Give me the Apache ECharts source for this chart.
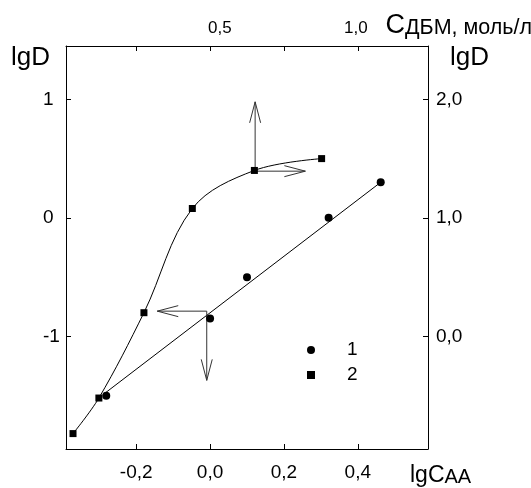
<!DOCTYPE html>
<html><head><meta charset="utf-8">
<script src="https://cdn.jsdelivr.net/npm/echarts@6/dist/echarts.min.js"></script>
<style>html,body{margin:0;padding:0;background:#fff}#c{width:531px;height:488px}</style>
</head><body><div id="c"></div>
<script>
// ---- data ----
const seriesNames = ['1', '2'];
const circles = [[-0.281, -1.50], [0.0, -0.85], [0.10, -0.50], [0.321, 0.0], [0.462, 0.30]];
const squares = [[-0.371, -1.82], [-0.301, -1.52], [-0.179, -0.80], [-0.048, 0.079], [0.12, 0.40], [0.302, 0.50]];
const fitLine = [[-0.285, -1.48], [0.462, 0.30]];
const arrows = [
  [0.122, 0.40, 0.122, 0.979],
  [0.122, 0.394, 0.258, 0.394],
  [-0.009, -0.787, -0.143, -0.787],
  [-0.009, -0.787, -0.009, -1.371]
];
const xTicks = [-0.2, 0, 0.2, 0.4];
const leftTicks = [-1, 0, 1];
const rightTicks = [0, 1, 2];
const topTicks = [0.5, 1.0];
// ---- chart ----
const FONT = "'Liberation Sans', Arial, sans-serif";
const comma = v => v.toFixed(1).replace('.', ',').replace('-0,0', '0,0');
const black = { color: '#000', width: 1 };
const chart = echarts.init(document.getElementById('c'), null, { renderer: 'canvas' });
chart.setOption({
  animation: false,
  backgroundColor: '#fff',
  textStyle: { fontFamily: FONT, color: '#000' },
  grid: { left: 66, right: 103, top: 46, bottom: 39, outerBoundsMode: 'none' },
  legend: {
    orient: 'vertical', left: 307, top: 340, padding: 0,
    itemWidth: 8, itemHeight: 8, itemGap: 5,
    data: [{ name: seriesNames[0], icon: 'circle' }, { name: seriesNames[1], icon: 'rect' }],
    textStyle: { fontFamily: FONT, fontSize: 19, color: '#000', lineHeight: 20, padding: [0, 0, 0, 27] }
  },
  xAxis: [
    {
      type: 'value', position: 'bottom', min: -0.39, max: 0.59,
      axisLine: { show: true, onZero: false, lineStyle: black },
      axisTick: { show: true, inside: true, length: 5, customValues: xTicks, lineStyle: black },
      axisLabel: { customValues: xTicks, formatter: comma, fontSize: 19, color: '#000', margin: 14, fontFamily: FONT },
      splitLine: { show: false },
      name: '{a|lgC}{b|AA}', nameLocation: 'end', nameGap: -18,
      nameTextStyle: {
        align: 'left', verticalAlign: 'top', padding: [15, 0, 0, 0],
        rich: {
          a: { fontSize: 23, fontFamily: FONT, color: '#000', verticalAlign: 'bottom', lineHeight: 23 },
          b: { fontSize: 20, fontFamily: FONT, color: '#000', verticalAlign: 'bottom', lineHeight: 23 }
        }
      }
    },
    {
      type: 'value', position: 'top', min: -0.39, max: 0.59,
      axisLine: { show: true, onZero: false, lineStyle: black },
      axisTick: { show: true, inside: true, length: 5, customValues: xTicks, lineStyle: black },
      axisLabel: { show: false },
      splitLine: { show: false }
    },
    {
      type: 'value', position: 'top', min: -0.066, max: 1.265,
      axisLine: { show: false, onZero: false }, axisTick: { show: false },
      axisLabel: { customValues: topTicks, formatter: comma, fontSize: 17, color: '#000', margin: 9, fontFamily: FONT },
      splitLine: { show: false },
      name: '{a|С}{b|ДБМ, моль/л}', nameLocation: 'end', nameGap: -42.5,
      nameTextStyle: {
        align: 'left', verticalAlign: 'bottom', padding: [0, 0, 7, 0],
        rich: {
          a: { fontSize: 27, fontFamily: FONT, color: '#000', verticalAlign: 'bottom', lineHeight: 27 },
          b: { fontSize: 21.5, fontFamily: FONT, color: '#000', verticalAlign: 'bottom', lineHeight: 27 }
        }
      }
    }
  ],
  yAxis: [
    {
      type: 'value', position: 'left', min: -1.95, max: 1.45,
      axisLine: { show: true, onZero: false, lineStyle: black },
      axisTick: { show: true, inside: true, length: 5, customValues: leftTicks, lineStyle: black },
      axisLabel: { customValues: leftTicks, formatter: v => String(v), align: 'left', fontSize: 19, color: '#000', margin: 23, fontFamily: FONT },
      splitLine: { show: false },
      name: 'lgD', nameLocation: 'end', nameGap: -11.5,
      nameTextStyle: { align: 'right', verticalAlign: 'middle', fontSize: 26, fontFamily: FONT, color: '#000', padding: [0, 16, 0, 0] }
    },
    {
      type: 'value', position: 'right', min: -0.95, max: 2.45,
      axisLine: { show: true, onZero: false, lineStyle: black },
      axisTick: { show: true, inside: true, length: 5, customValues: rightTicks, lineStyle: black },
      axisLabel: { customValues: rightTicks, formatter: comma, fontSize: 19, color: '#000', margin: 8, fontFamily: FONT },
      splitLine: { show: false },
      name: 'lgD', nameLocation: 'end', nameGap: -11.5,
      nameTextStyle: { align: 'left', verticalAlign: 'middle', fontSize: 26, fontFamily: FONT, color: '#000', padding: [0, 0, 0, 22] }
    }
  ],
  series: [
    {
      name: 'fit', type: 'line', xAxisIndex: 0, yAxisIndex: 0, data: fitLine,
      symbol: 'none', lineStyle: black, silent: true, z: 2
    },
    {
      name: seriesNames[0], type: 'scatter', xAxisIndex: 0, yAxisIndex: 0, data: circles,
      symbol: 'circle', symbolSize: 8, itemStyle: { color: '#000', opacity: 1 }, z: 4
    },
    {
      name: seriesNames[1], type: 'line', xAxisIndex: 0, yAxisIndex: 0, data: squares,
      smooth: 0.35, symbol: 'rect', symbolSize: 7, showAllSymbol: true,
      lineStyle: black, itemStyle: { color: '#000', opacity: 1 }, z: 4
    },
    {
      name: 'arrows', type: 'custom', xAxisIndex: 0, yAxisIndex: 0, data: arrows, silent: true, clip: false, z: 3,
      encode: { x: [0, 2], y: [1, 3] },
      renderItem: function (params, api) {
        const p0 = api.coord([api.value(0), api.value(1)]);
        const p1 = api.coord([api.value(2), api.value(3)]);
        const dx = p1[0] - p0[0], dy = p1[1] - p0[1];
        const L = Math.sqrt(dx * dx + dy * dy) || 1;
        const ux = dx / L, uy = dy / L, nx = -uy, ny = ux;
        const back = 21, half = 5.5;
        const w1 = [p1[0] - ux * back + nx * half, p1[1] - uy * back + ny * half];
        const w2 = [p1[0] - ux * back - nx * half, p1[1] - uy * back - ny * half];
        const st = { stroke: '#333', lineWidth: 1, fill: null };
        return {
          type: 'group',
          children: [
            { type: 'line', shape: { x1: p0[0], y1: p0[1], x2: p1[0], y2: p1[1] }, style: st },
            { type: 'polyline', shape: { points: [w1, p1, w2] }, style: st }
          ]
        };
      }
    }
  ]
});
</script>
</body></html>
